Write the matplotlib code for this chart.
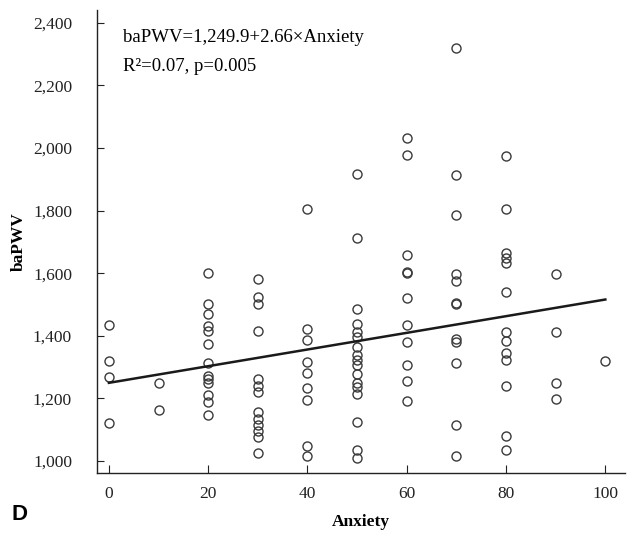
import numpy as np
import matplotlib.pyplot as plt

# Anxiety score groups and the baPWV readings at each score
anxiety_levels = [0, 10, 20, 30, 40, 50, 60, 70, 80, 90, 100]
bapwv_0 = [1436, 1319, 1267, 1123]
bapwv_10 = [1250, 1163]
bapwv_20 = [1602, 1503, 1471, 1432, 1416, 1374, 1312, 1272, 1262, 1250, 1211, 1188, 1148]
bapwv_30 = [1580, 1525, 1503, 1416, 1263, 1241, 1220, 1158, 1136, 1115, 1096, 1076, 1027]
bapwv_40 = [1806, 1422, 1387, 1318, 1281, 1234, 1195, 1047, 1015]
bapwv_50 = [1915, 1712, 1487, 1439, 1412, 1396, 1365, 1340, 1323, 1306, 1278,
            1248, 1237, 1213, 1124, 1035, 1009]
bapwv_60 = [2030, 1976, 1657, 1605, 1600, 1522, 1434, 1379, 1308, 1256, 1192]
bapwv_70 = [2318, 1912, 1785, 1596, 1575, 1506, 1500, 1389, 1380, 1312, 1115, 1016]
bapwv_80 = [1973, 1806, 1664, 1650, 1634, 1540, 1412, 1384, 1344, 1322, 1239, 1080, 1037]
bapwv_90 = [1596, 1412, 1250, 1198]
bapwv_100 = [1319]

groups = [bapwv_0, bapwv_10, bapwv_20, bapwv_30, bapwv_40, bapwv_50,
          bapwv_60, bapwv_70, bapwv_80, bapwv_90, bapwv_100]

# regression line from the reported fit
intercept = 1249.9
slope = 2.66

x = np.concatenate([[a] * len(g) for a, g in zip(anxiety_levels, groups)])
y = np.concatenate(groups)

plt.rcParams['font.family'] = 'Liberation Serif'

fig = plt.figure(figsize=(6.36, 5.39), dpi=100)
ax = fig.add_axes([0.1525, 0.1224, 0.8305, 0.859])

ax.plot(x, y, linestyle='none', marker='o', markersize=6.5,
        markerfacecolor='none', markeredgecolor='#3a3a3a', markeredgewidth=1.0)

fit_x = np.array([0, 100])
ax.plot(fit_x, intercept + slope * fit_x, color='#1a1a1a', linewidth=1.8)

ax.set_xlim(-2.4, 104)
ax.set_ylim(962, 2440)
ax.set_xticks([0, 20, 40, 60, 80, 100])
ax.set_yticks(range(1000, 2401, 200))
ax.set_yticklabels([f'{v:,}' for v in range(1000, 2401, 200)])

for side in ['top', 'right']:
    ax.spines[side].set_visible(False)
for side in ['left', 'bottom']:
    ax.spines[side].set_color('#222222')
    ax.spines[side].set_linewidth(1.0)

ax.tick_params(axis='y', direction='in', length=5, pad=18, labelsize=12.5, colors='#222222')
ax.tick_params(axis='x', direction='in', length=6, pad=9, labelsize=12.5, colors='#222222')

ax.set_xlabel('Anxiety', fontsize=12.5, fontweight='bold', labelpad=9)
ax.set_ylabel('baPWV', fontsize=12.5, fontweight='bold', labelpad=4)

ax.text(0.049, 0.958, 'baPWV=1,249.9+2.66×Anxiety', transform=ax.transAxes,
        fontsize=13.5, va='top', ha='left')
ax.text(0.049, 0.896, 'R²=0.07, p=0.005', transform=ax.transAxes,
        fontsize=13.5, va='top', ha='left')

fig.text(0.018, 0.035, 'D', fontsize=16, fontweight='bold', family='Liberation Sans')

fig.savefig('out.png', dpi=100)
